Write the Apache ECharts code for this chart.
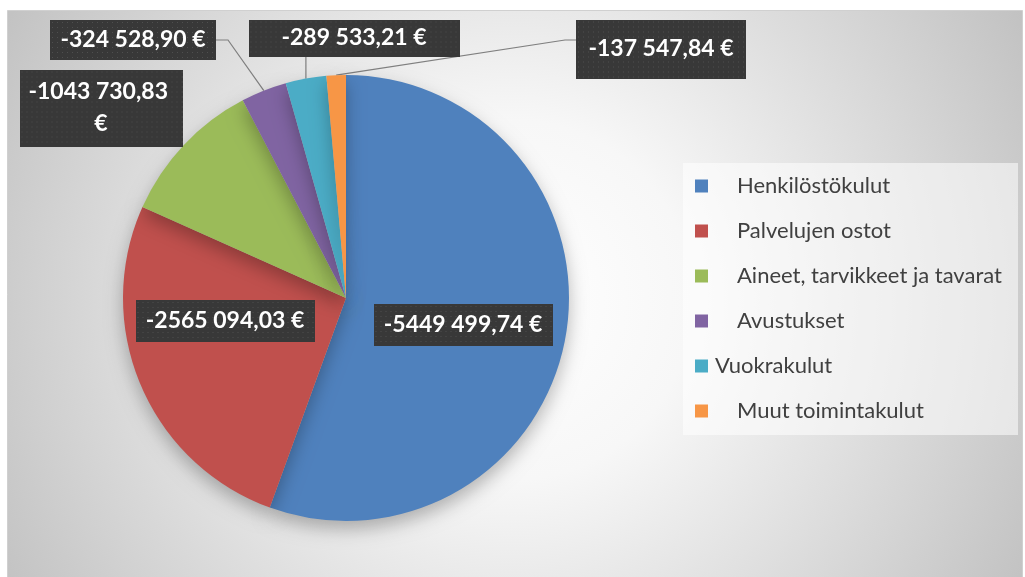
<!DOCTYPE html>
<html>
<head>
<meta charset="utf-8">
<script src="https://cdn.jsdelivr.net/npm/echarts@6/dist/echarts.min.js"></script>
<style>
html,body{margin:0;padding:0;background:#fff}
#chart{width:1025px;height:577px}
</style>
</head>
<body>
<div id="chart"></div>
<script>
const categories = ['Henkilöstökulut', 'Palvelujen ostot', 'Aineet, tarvikkeet ja tavarat', 'Avustukset', 'Vuokrakulut', 'Muut toimintakulut'];
const values = [-5449499.74, -2565094.03, -1043730.83, -324528.90, -289533.21, -137547.84];
const colors = ['#4F81BD', '#C0504D', '#9BBB59', '#8064A2', '#4BACC6', '#F79646'];

// label boxes: centre x, centre y, width, height
const labelBoxes = [[463, 325, 179, 42], [225, 321, 179, 42], [101, 108, 163, 77], [133, 40, 166, 40], [354, 38, 211, 37], [661, 49, 170, 59]];
const leaderSide = [null, null, null, 'right', 'bottom', 'left'];

const labelFont = 'bold 23px Lato';
const legendFont = '22px Lato';

const cv = document.createElement('canvas').getContext('2d');
function textW(font, s) { cv.font = font; return cv.measureText(s).width; }

// euro format like the excel one: -5449 499,74 €
function fmt(v) {
  const a = Math.abs(v);
  let int = String(Math.floor(a));
  let dec = Math.round((a - Math.floor(a)) * 100);
  if (int.length > 3) int = int.slice(0, -3) + ' ' + int.slice(-3);
  return (v < 0 ? '-' : '') + int + ',' + String(dec).padStart(2, '0') + ' €';
}

// dark dotted box like the excel label style
function dotted(w, h) {
  const c = document.createElement('canvas');
  c.width = w; c.height = h;
  const g = c.getContext('2d');
  g.fillStyle = '#383838';
  g.fillRect(0, 0, w, h);
  g.fillStyle = '#4f4f4f';
  for (let y = 2; y < h; y += 5) {
    for (let x = 2; x < w; x += 5) g.fillRect(x, y, 1, 1);
  }
  return c;
}

const pieData = values.map(function (v, i) {
  const b = labelBoxes[i];
  const two = i === 2;
  const lh = two ? 32 : 26;
  const inner = two ? 150 : textW(labelFont, fmt(v));
  const ph = Math.max(0, (b[2] - inner) / 2);
  const pv = Math.max(0, (b[3] - lh * (two ? 2 : 1)) / 2);
  const label = {
    padding: [pv, ph, pv, ph],
    lineHeight: lh,
    backgroundColor: { image: dotted(b[2], b[3]) }
  };
  if (two) { label.width = inner; label.overflow = 'break'; }
  return {
    name: categories[i],
    value: Math.abs(v),
    raw: v,
    label: label,
    labelLine: { show: leaderSide[i] !== null }
  };
});

const legendText = textW(legendFont, 'Aineet, tarvikkeet ja tavarat');
const legendRight = Math.max(4, 1018 - 737 - legendText);

const chart = echarts.init(document.getElementById('chart'));
chart.setOption({
  animation: false,
  color: colors,
  graphic: [{
    type: 'rect',
    z: -10,
    silent: true,
    shape: { x: 7.5, y: 10.5, width: 1015, height: 572 },
    style: {
      fill: {
        type: 'radial', x: 512, y: 300, r: 600, global: true,
        colorStops: [{ offset: 0, color: '#ffffff' }, { offset: 0.3, color: '#f7f7f7' }, { offset: 1, color: '#c0c0c0' }]
      },
      stroke: '#d0d0d0',
      lineWidth: 1
    }
  }],
  legend: {
    orient: 'vertical',
    left: 683,
    top: 163,
    padding: [12, legendRight, 13, 12],
    itemWidth: 13,
    itemHeight: 13,
    itemGap: 23,
    icon: 'rect',
    backgroundColor: 'rgba(255,255,255,0.55)',
    itemStyle: { shadowBlur: 0, shadowOffsetX: 0, shadowOffsetY: 0, shadowColor: 'transparent', borderWidth: 0 },
    formatter: function (n) { return n === 'Vuokrakulut' ? '{b|' + n + '}' : '{a|' + n + '}'; },
    textStyle: {
      fontFamily: 'Lato', fontSize: 22, color: '#404040', lineHeight: 21,
      rich: {
        a: { fontFamily: 'Lato', fontSize: 22, color: '#404040', lineHeight: 21, padding: [0, 0, 0, 24] },
        b: { fontFamily: 'Lato', fontSize: 22, color: '#404040', lineHeight: 21, padding: [0, 0, 0, 2] }
      }
    }
  },
  series: [{
    type: 'pie',
    center: [346, 298],
    radius: 223,
    startAngle: 90,
    clockwise: true,
    avoidLabelOverlap: false,
    data: pieData,
    itemStyle: {
      shadowBlur: 18,
      shadowOffsetY: 8,
      shadowColor: 'rgba(0,0,0,0.28)'
    },
    label: {
      show: true,
      position: 'outside',
      formatter: function (p) { return fmt(p.data.raw); },
      fontFamily: 'Lato',
      fontWeight: 'bold',
      fontSize: 23,
      color: '#ffffff',
      shadowColor: 'rgba(0,0,0,0.45)',
      shadowBlur: 5,
      shadowOffsetX: 3,
      shadowOffsetY: 3
    },
    labelLine: {
      show: true,
      length: 10,
      length2: 10,
      lineStyle: { color: '#7f7f7f', width: 1.2 }
    },
    labelLayout: function (p) {
      const i = p.dataIndex;
      const b = labelBoxes[i];
      const out = { x: b[0], y: b[1], align: 'center', verticalAlign: 'middle', hideOverlap: false, moveOverlap: null };
      const pts = p.labelLinePoints;
      if (pts && pts.length && leaderSide[i]) {
        const a = pts[0];
        if (leaderSide[i] === 'right') {
          const ax = b[0] + b[2] / 2;
          out.labelLinePoints = [a, [ax + 12, b[1]], [ax, b[1]]];
        } else if (leaderSide[i] === 'bottom') {
          const by = b[1] + b[3] / 2;
          out.labelLinePoints = [a, [a[0], (a[1] + by) / 2], [a[0], by]];
        } else {
          const ax = b[0] - b[2] / 2;
          out.labelLinePoints = [a, [ax - 11, b[1] - 9], [ax, b[1] - 9]];
        }
      }
      return out;
    },
    emphasis: { disabled: true }
  }]
});
</script>
</body>
</html>
